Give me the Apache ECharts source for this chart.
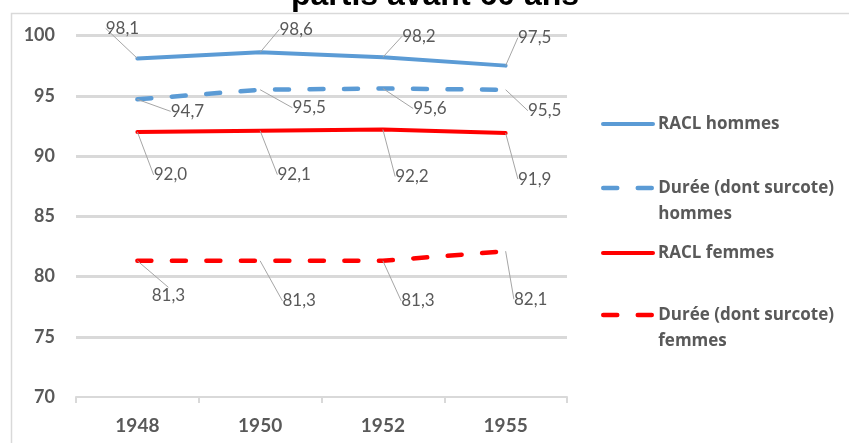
<!DOCTYPE html>
<html>
<head>
<meta charset="utf-8">
<script src="https://cdn.jsdelivr.net/npm/echarts@6/dist/echarts.min.js"></script>
<style>
  html, body { margin: 0; padding: 0; background: #fff; }
  #chart { width: 849px; height: 443px; }
</style>
</head>
<body>
<div id="chart"></div>
<script>
// Generations (x axis)
const years = ['1948', '1950', '1952', '1955'];

// Replacement rates (%)
const raclHommes = [98.1, 98.6, 98.2, 97.5];
const dureeHommes = [94.7, 95.5, 95.6, 95.5];
const raclFemmes = [92.0, 92.1, 92.2, 91.9];
const dureeFemmes = [81.3, 81.3, 81.3, 82.1];

// Y axis ticks
const yMin = 70, yMax = 100, yStep = 5;

const seriesNames = [
  'RACL hommes',
  'Durée (dont surcote) hommes',
  'RACL femmes',
  'Durée (dont surcote) femmes'
];

// Where each value label sits relative to its point [dx, dy]
const labelOffsets = [
  [[-15, -30], [36, -23], [36, -21], [29, -28]],
  [[50, 12], [49, 18], [47, 20], [39, 21]],
  [[33, 43], [34, 44], [29, 47], [29, 46]],
  [[31, 35], [39, 40], [35, 40], [25, 48]]
];

const BLUE = '#5B9BD5';
const RED = '#FF0000';
const TEXT = '#595959';
const GRID = '#D9D9D9';
const FONT = 'Lato, "Open Sans", sans-serif';
const LEGEND_FONT = '"Open Sans", Lato, sans-serif';

const fmt = v => v.toFixed(1).replace('.', ',');

function lineSeries(idx, data, color, dashed) {
  return {
    name: seriesNames[idx],
    type: 'line',
    data: data,
    symbol: 'circle',
    symbolSize: 0,
    itemStyle: { color: color },
    lineStyle: {
      color: color,
      width: dashed ? 4.5 : 4,
      type: dashed ? [14, 20.5] : 'solid',
      cap: 'round',
      join: 'round'
    },
    label: {
      show: true,
      position: 'inside',
      color: TEXT,
      fontFamily: FONT,
      fontSize: 17,
      formatter: p => fmt(p.value)
    },
    labelLine: {
      show: true,
      length2: 6,
      lineStyle: { color: '#A6A6A6', width: 1 }
    },
    labelLayout: params => {
      const o = labelOffsets[idx][params.dataIndex];
      return { dx: o[0], dy: o[1] };
    },
    emphasis: { disabled: true },
    z: 3
  };
}

// One legend block per series; two-line entries get a leading empty line
// so that the icon stays level with their first line of text.
function legendBlock(idx, top, twoLines, dashed) {
  const name = seriesNames[idx];
  return {
    data: [name],
    left: 601,
    top: top,
    padding: 0,
    itemWidth: 50,
    itemHeight: 14,
    itemGap: 0,
    selectedMode: false,
    itemStyle: { opacity: 0 },
    lineStyle: { width: dashed ? 4.5 : 4, cap: 'round' },
    formatter: twoLines
      ? () => '\n' + name.replace(/ (hommes|femmes)$/, '\n$1')
      : undefined,
    textStyle: {
      color: TEXT,
      fontFamily: LEGEND_FONT,
      fontWeight: 'bold',
      fontSize: 17,
      lineHeight: 26
    }
  };
}

const chart = echarts.init(document.getElementById('chart'), null, { renderer: 'canvas' });

chart.setOption({
  animation: false,
  backgroundColor: '#fff',
  grid: { left: 76, right: 282, top: 35.5, bottom: 46 },
  graphic: [
    {
      type: 'rect',
      shape: { x: 11.5, y: 13.5, width: 900, height: 500 },
      style: { fill: 'none', stroke: GRID, lineWidth: 1.5 },
      silent: true,
      z: -10
    },
    {
      type: 'text',
      style: {
        x: 435,
        y: 12,
        text: 'partis avant 60 ans',
        textAlign: 'center',
        textVerticalAlign: 'bottom',
        font: 'bold 32px "Liberation Sans", Arial, sans-serif',
        fill: '#000'
      },
      silent: true,
      z: 10
    }
  ],
  legend: [
    legendBlock(0, 111, false, false),
    legendBlock(1, 149, true, true),
    legendBlock(2, 240, false, false),
    legendBlock(3, 276, true, true)
  ],
  xAxis: {
    type: 'category',
    data: years,
    boundaryGap: true,
    axisLine: { show: true, lineStyle: { color: GRID, width: 2 } },
    axisTick: { show: true, length: 6, lineStyle: { color: GRID, width: 2 } },
    axisLabel: {
      color: TEXT,
      fontFamily: FONT,
      fontWeight: 'bold',
      fontSize: 19,
      margin: 19
    },
    z: 2
  },
  yAxis: {
    type: 'value',
    min: yMin,
    max: yMax,
    interval: yStep,
    axisLine: { show: false },
    axisTick: { show: false },
    axisLabel: {
      color: TEXT,
      fontFamily: FONT,
      fontWeight: 'bold',
      fontSize: 18,
      margin: 21
    },
    splitLine: {
      show: true,
      lineStyle: {
        color: ['rgba(0,0,0,0)', GRID, GRID, GRID, GRID, GRID, GRID],
        width: 3
      }
    }
  },
  series: [
    lineSeries(0, raclHommes, BLUE, false),
    lineSeries(1, dureeHommes, BLUE, true),
    lineSeries(2, raclFemmes, RED, false),
    lineSeries(3, dureeFemmes, RED, true)
  ]
});
</script>
</body>
</html>
